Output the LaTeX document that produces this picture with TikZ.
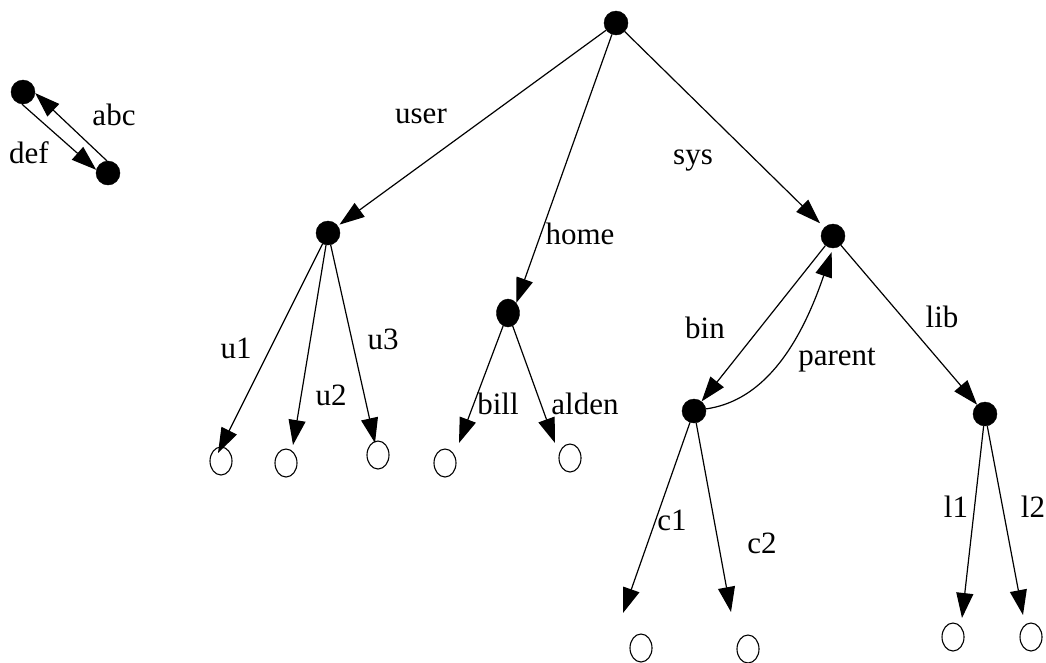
\documentclass[tikz,border=0pt]{standalone}
\usepackage{fontspec}
\setmainfont{Liberation Serif}
\usetikzlibrary{arrows.meta,shapes.geometric}
\begin{document}
\begin{tikzpicture}[x=1pt,y=-1pt,
  inner/.style={circle,fill=black,draw=black,minimum size=24pt,inner sep=0pt},
  innerov/.style={ellipse,fill=black,draw=black,minimum width=23pt,minimum height=28pt,inner sep=0pt},
  leaf/.style={ellipse,draw=black,line width=1.1pt,minimum width=22pt,minimum height=28pt,inner sep=0pt},
  lbl/.style={anchor=base,inner sep=0pt,font=\fontsize{31}{36}\selectfont},
  conn/.style={line width=1.2pt,-{Triangle[length=25pt,width=17pt]}}]
\useasboundingbox (0,0) rectangle (1046,662);
% small pair
\node[inner] (A) at (23,92) {};
\node[inner] (B) at (108,173) {};
% tree
\node[inner] (root) at (616,23) {};
\node[inner] (user) at (328,233) {};
\node[innerov] (home) at (508,313) {};
\node[inner] (sys) at (833,236) {};
\node[inner] (bin) at (694,411) {};
\node[inner] (lib) at (985,414) {};
% leaves
\node[leaf] (u1) at (221,461) {};
\node[leaf] (u2) at (286,463) {};
\node[leaf] (u3) at (378,455) {};
\node[leaf] (bill) at (445,463) {};
\node[leaf] (alden) at (570,458) {};
\node[leaf] (c1) at (641,648) {};
\node[leaf] (c2) at (748,649) {};
\node[leaf] (l1) at (953,637) {};
\node[leaf] (l2) at (1031,637) {};
% arrow ends above the leaves
\coordinate (u1tip) at (218,453);
\coordinate (u2tip) at (293,445);
\coordinate (u3tip) at (375,443);
\coordinate (billtip) at (459,443);
\coordinate (aldentip) at (555,443);
\coordinate (c1tip) at (623,613);
\coordinate (c2tip) at (731,612);
\coordinate (l1tip) at (962,618);
\coordinate (l2tip) at (1023,615);
% labels
\node[lbl] (tabc) at (114,125) {abc};
\node[lbl] (tdef) at (29,163) {def};
\node[lbl] (tuser) at (421,123) {user};
\node[lbl] (thome) at (580,244) {home};
\node[lbl] (tsys) at (693,164) {sys};
\node[lbl] (tbin) at (705,338) {bin};
\node[lbl] (tparent) at (837,365) {parent};
\node[lbl] (tlib) at (942,327) {lib};
\node[lbl] (tu1) at (236,358) {u1};
\node[lbl] (tu2) at (331,405) {u2};
\node[lbl] (tu3) at (383,349) {u3};
\node[lbl] (tbill) at (498,414) {bill};
\node[lbl] (talden) at (585,414) {alden};
\node[lbl] (tc1) at (672,530) {c1};
\node[lbl] (tc2) at (762,553) {c2};
\node[lbl] (tl1) at (956,517) {l1};
\node[lbl] (tl2) at (1033,517) {l2};
% connectors
\draw[conn] (A.-95) -- (B.165);
\draw[conn] (B.95) -- (A.-5);
\draw[conn,shorten >=2pt] (root) -- (user);
\draw[conn] (root) -- (home.north east);
\draw[conn,shorten >=6pt] (root) -- (sys);
\draw[conn] (user) -- (u1tip);
\draw[conn] (user) -- (u2tip);
\draw[conn] (user) -- (u3tip);
\draw[conn] (home) -- (billtip);
\draw[conn] (home) -- (aldentip);
\draw[conn] (sys) -- (bin);
\draw[conn] (sys) -- (lib);
\draw[conn] (bin) -- (c1tip);
\draw[conn] (bin) -- (c2tip);
\draw[conn] (lib) -- (l1tip);
\draw[conn] (lib) -- (l2tip);
\draw[conn,shorten >=4pt] (bin.10) .. controls (755,402) and (795,360) .. (sys.south);
\end{tikzpicture}
\end{document}
